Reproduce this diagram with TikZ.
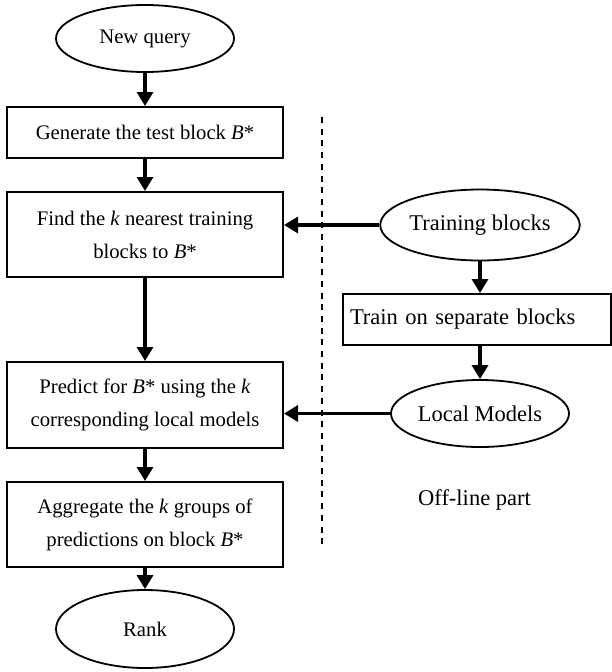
\documentclass[tikz,border=0pt]{standalone}
\usepackage{fontspec}
\setmainfont{Liberation Serif}
\usetikzlibrary{shapes.geometric,arrows.meta}
\newcommand\leftfnt{\fontsize{20.7pt}{33pt}\selectfont}
\newcommand\rightfnt{\fontsize{22.5pt}{33pt}\selectfont}
\tikzset{
  box/.style={draw, line width=2pt, rectangle, minimum width=276pt, inner sep=0pt, align=center, font=\leftfnt},
  oval/.style={draw, ellipse, line width=1.8pt, minimum width=178pt, inner sep=0pt, font=\leftfnt},
  arr/.style={-{Triangle[width=16pt,length=14pt]}, line width=3.2pt},
  divider/.style={line width=2.2pt, dash pattern=on 6pt off 5.7pt}
}
\begin{document}
\begin{tikzpicture}[x=1pt,y=-1pt]
\useasboundingbox (0,0) rectangle (611,672);
\node[oval, minimum height=67pt] (newq) at (145,38.5) {New query};
\node[box, minimum height=51pt] (gen) at (145,132.5) {Generate the test block \textit{B}*};
\node[box, minimum height=85pt] (find) at (145,234.5) {Find the \textit{k} nearest training\\blocks to \textit{B}*};
\node[box, minimum height=86pt] (pred) at (145,405) {Predict for \textit{B}* using the \textit{k}\\corresponding local models};
\node[box, minimum height=85pt] (agg) at (145,524.5) {Aggregate the \textit{k} groups of\\predictions on block \textit{B}*};
\node[oval, minimum height=78pt] (rank) at (145,629) {Rank};
\node[oval, minimum height=71pt, font=\rightfnt] (train) at (480,225) {Training blocks};
\node[draw, line width=2pt, minimum height=51pt, anchor=west, inner xsep=7pt, inner ysep=0pt, text width=254pt, align=left, font=\rightfnt] (tbox) at (342,319.5) {Train on separate blocks};
\node[oval, minimum height=67pt, font=\rightfnt] (local) at (480,413.5) {Local Models};
\node[font=\rightfnt] (off) at (474.5,500) {Off-line part};
\coordinate (dtop) at (322,117);
\coordinate (dbot) at (322,546);
\draw[divider] (dtop) -- (dbot);
\draw[arr] (newq) -- (gen);
\draw[arr] (gen) -- (find);
\draw[arr] (find) -- (pred);
\draw[arr] (pred) -- (agg);
\draw[arr] (agg) -- (rank);
\draw[arr] (train.south) -- (train.south |- tbox.north);
\draw[arr] (tbox.south -| local.north) -- (local.north);
\draw[arr] (train.west) -- (train.west -| find.east);
\draw[arr] (local.west) -- (local.west -| pred.east);
\end{tikzpicture}
\end{document}
